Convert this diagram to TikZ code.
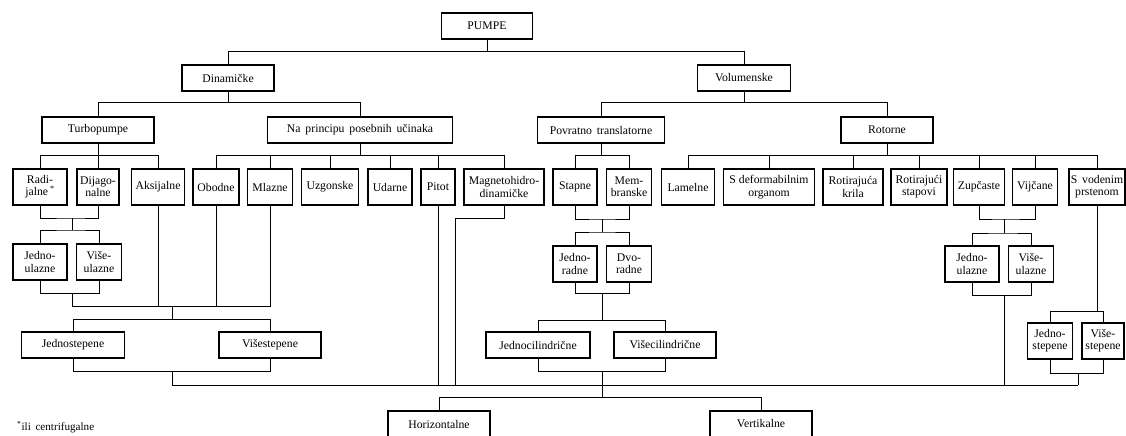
\documentclass[tikz,border=0pt]{standalone}
\usepackage{fontspec}
\setmainfont{Liberation Serif}
\begin{document}
\begin{tikzpicture}[x=0.03cm, y=-0.03cm,
  box/.style={draw, line width=1.35pt, font=\fontsize{10}{10.5}\selectfont, align=center, inner sep=1pt, minimum height=0.78cm},
  tall/.style={box, minimum height=1.08cm},
  wire/.style={line width=0.6pt}]
  \useasboundingbox (0,0) rectangle (1126,435);

  % Top levels
  \node[box, minimum width=2.73cm] (pumpe) at (487,26) {PUMPE};
  \node[box, minimum width=2.76cm] (din) at (228,78) {Dinami\v{c}ke};
  \node[box, minimum width=2.79cm] (vol) at (744,78) {Volumenske};
  \node[box, minimum width=3.36cm] (turbo) at (98,130) {Turbopumpe};
  \node[box, minimum width=5.55cm] (posebni) at (360,130) {Na\, principu\, posebnih\, u\v{c}inaka};
  \node[box, minimum width=3.81cm] (povrat) at (601,130) {Povratno\, translatorne};
  \node[box, minimum width=2.76cm] (rotor) at (887,130) {Rotorne};

  % Third level
  \node[tall, minimum width=1.62cm] (radij) at (40,187) {Radi-\\jalne\,\textsuperscript{*}};
  \node[tall, minimum width=1.26cm] (dijag) at (98,187) {Dijago-\\nalne};
  \node[tall, minimum width=1.59cm] (aksij) at (158,187) {Aksijalne};
  \node[tall, minimum width=1.38cm] (obod) at (216,187) {Obodne};
  \node[tall, minimum width=1.35cm] (mlaz) at (270,187) {Mlazne};
  \node[tall, minimum width=1.71cm] (uzgon) at (330,187) {Uzgonske};
  \node[tall, minimum width=1.32cm] (udar) at (390,187) {Udarne};
  \node[tall, minimum width=1.02cm] (pitot) at (438,187) {Pitot};
  \node[tall, minimum width=2.4cm] (magnet) at (504,187) {Magnetohidro-\\dinami\v{c}ke};
  \node[tall, minimum width=1.32cm] (stap) at (575,187) {Stapne};
  \node[tall, minimum width=1.35cm] (membr) at (629,187) {Mem-\\branske};
  \node[tall, minimum width=1.59cm] (lamel) at (688,187) {Lamelne};
  \node[tall, minimum width=2.73cm] (deform) at (769,187) {S deformabilnim\\organom};
  \node[tall, minimum width=1.8cm] (krila) at (853,187) {Rotiraju\'{c}a\\krila};
  \node[tall, minimum width=1.68cm] (stapovi) at (919,187) {Rotiraju\'{c}i\\stapovi};
  \node[tall, minimum width=1.53cm] (zupc) at (979,187) {Zup\v{c}aste};
  \node[tall, minimum width=1.35cm] (vijc) at (1035,187) {Vij\v{c}ane};
  \node[tall, minimum width=1.68cm] (vodeni) at (1097,187) {S\, vodenim\\prstenom};

  % Fourth level
  \node[tall, minimum width=1.62cm] (julaz) at (40,262) {Jedno-\\ulazne};
  \node[tall, minimum width=1.35cm] (vulaz) at (99,262) {Vi\v{s}e-\\ulazne};
  \node[tall, minimum width=1.32cm] (jradne) at (575,264) {Jedno-\\radne};
  \node[tall, minimum width=1.35cm] (dradne) at (629,264) {Dvo-\\radne};
  \node[tall, minimum width=1.62cm] (julazR) at (972,264) {Jedno-\\ulazne};
  \node[tall, minimum width=1.35cm] (vulazR) at (1031,264) {Vi\v{s}e-\\ulazne};
  \node[tall, minimum width=1.35cm] (jstepR) at (1050,341) {Jedno-\\stepene};
  \node[tall, minimum width=1.26cm] (vstepR) at (1103,341) {Vi\v{s}e-\\stepene};
  \node[box, minimum width=3.09cm] (jstep) at (73,345) {Jednostepene};
  \node[box, minimum width=3.06cm] (vstep) at (270,345) {Vi\v{s}estepene};
  \node[box, minimum width=3.12cm] (jcil) at (538,345) {Jednocilindri\v{c}ne};
  \node[box, minimum width=3.06cm] (vcil) at (665,345) {Vi\v{s}ecilindri\v{c}ne};

  % Bottom
  \node[box, minimum width=3.06cm] (horiz) at (439,424) {Horizontalne};
  \node[box, minimum width=3.06cm] (vert) at (761,424) {Vertikalne};
  \node[font=\fontsize{9.5}{10}\selectfont, anchor=west] (fnote) at (13,427) {\textsuperscript{*}ili\, centrifugalne};

  % Upper connectors
  \draw[wire] (pumpe) -- (pumpe |- 0,52);
  \draw[wire] (din.north) -- ++(0,-13) -| (vol.north);
  \draw[wire] (din.south) -- (din.south |- 0,103);
  \draw[wire] (turbo.north) -- ++(0,-14) -| (posebni.north);
  \draw[wire] (vol.south) -- (vol.south |- 0,103);
  \draw[wire] (povrat.north) -- ++(0,-14) -| (rotor.north);
  \draw[wire] (turbo.south) -- (turbo.south |- 0,156);
  \draw[wire] (posebni.south) -- (posebni.south |- 0,156);
  \draw[wire] (povrat.south) -- (povrat.south |- 0,156);
  \draw[wire] (rotor.south) -- (rotor.south |- 0,156);
  \draw[wire] (radij.north) -- ++(0,-13) -| (aksij.north);
  \draw[wire] (obod.north) -- ++(0,-13) -| (magnet.north);
  \draw[wire] (stap.north) -- ++(0,-13) -| (membr.north);
  \draw[wire] (lamel.north) -- ++(0,-13) -| (vodeni.north);
  \foreach \n in {dijag,mlaz,uzgon,udar,pitot,deform,krila,stapovi,zupc,vijc}
    \draw[wire] (\n.north) -- ++(0,-13);

  % Dynamic pumps: stages
  \coordinate (jRD) at (72,218);
  \draw[wire] (radij.south) |- (jRD) -| (dijag.south);
  \draw[wire] (jRD) -- ++(0,12) coordinate (jUL);
  \draw[wire] (julaz.north) |- (jUL) -| (vulaz.north);
  \coordinate (jUL2) at (72,293);
  \draw[wire] (julaz.south) |- (jUL2) -| (vulaz.south);
  \draw[wire] (jUL2) -- ++(0,13) -| (mlaz.south);
  \coordinate (jS) at (172,306);
  \draw[wire] (aksij.south) -- (aksij.south |- jS);
  \draw[wire] (obod.south) -- (obod.south |- jS);
  \draw[wire] (jS) -- ++(0,13) coordinate (jST);
  \draw[wire] (jstep.north) |- (jST) -| (vstep.north);
  \coordinate (jST2) at (172,371);
  \draw[wire] (jstep.south) |- (jST2) -| (vstep.south);
  \draw[wire] (jST2) -- ++(0,14) coordinate (mainL);

  % Main collecting line
  \coordinate (mainR) at (1078,385);
  \draw[wire] (mainL) -- (mainR);
  \draw[wire] (pitot.south) -- (pitot.south |- mainL);
  \coordinate (jMag) at (455,385);
  \draw[wire] (magnet.south) -- ++(0,13) -| (jMag);

  % Reciprocating pumps
  \coordinate (jSM) at (602,219);
  \draw[wire] (stap.south) |- (jSM) -| (membr.south);
  \draw[wire] (jSM) -- ++(0,13) coordinate (jRad);
  \draw[wire] (jradne.north) |- (jRad) -| (dradne.north);
  \coordinate (jRad2) at (602,293);
  \draw[wire] (jradne.south) |- (jRad2) -| (dradne.south);
  \draw[wire] (jRad2) -- ++(0,27) coordinate (jCil);
  \draw[wire] (jcil.north) |- (jCil) -| (vcil.north);
  \coordinate (jCil2) at (602,371);
  \draw[wire] (jcil.south) |- (jCil2) -| (vcil.south);
  \draw[wire] (jCil2) -- ++(0,26) coordinate (jHV);
  \draw[wire] (horiz.north) |- (jHV) -| (vert.north);

  % Rotary pumps
  \coordinate (jZV) at (1004,219);
  \draw[wire] (zupc.south) |- (jZV) -| (vijc.south);
  \draw[wire] (jZV) -- ++(0,14) coordinate (jUR);
  \draw[wire] (julazR.north) |- (jUR) -| (vulazR.north);
  \coordinate (jUR2) at (1004,295);
  \draw[wire] (julazR.south) |- (jUR2) -| (vulazR.south);
  \draw[wire] (jUR2) -- (jUR2 |- mainR);
  \draw[wire] (vodeni.south) -- ++(0,106) coordinate (jVS);
  \draw[wire] (jstepR.north) |- (jVS) -| (vstepR.north);
  \coordinate (jVS2) at (1078,373);
  \draw[wire] (jstepR.south) |- (jVS2) -| (vstepR.south);
  \draw[wire] (jVS2) -- (mainR);
\end{tikzpicture}
\end{document}
